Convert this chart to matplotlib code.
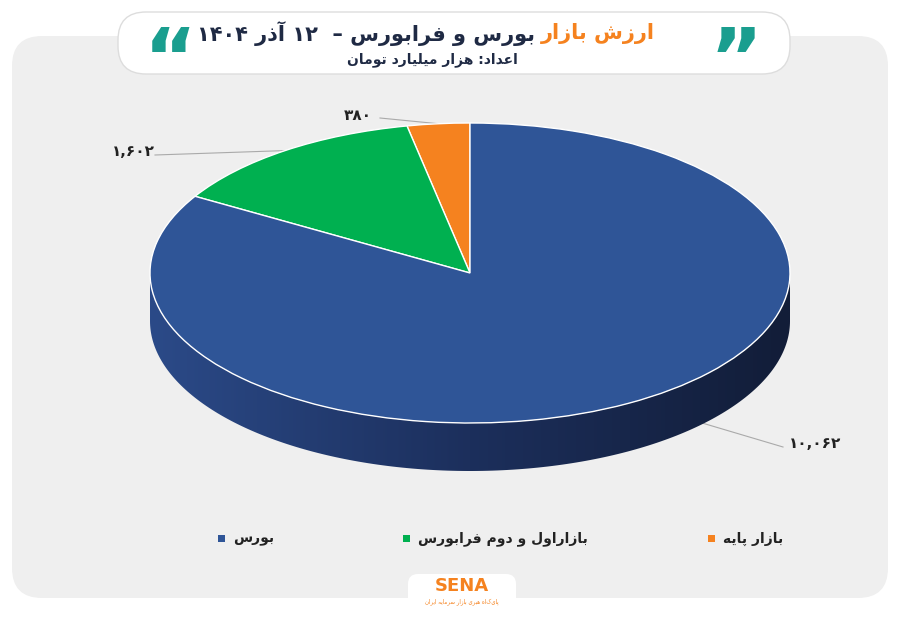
import numpy as np
import matplotlib
matplotlib.use("Agg")
import matplotlib.pyplot as plt
from matplotlib.patches import FancyBboxPatch, Rectangle, Polygon
from matplotlib.colors import LinearSegmentedColormap

labels = ["بازار پایه", "بازاراول و دوم فرابورس", "بورس"]
values = [380, 1602, 10062]
value_labels = ["۳۸۰", "۱,۶۰۲", "۱۰,۰۶۲"]
colors = ["#f5821f", "#00b050", "#2f5597"]
title_orange = "ارزش بازار"
title_rest = "بورس و فرابورس –  ۱۲ آذر ۱۴۰۴"
subtitle = "اعداد: هزار میلیارد تومان"

# --- minimal Persian shaper ---
FORMS = {
 'ا': (0xFE8D, 0xFE8E, None, None), 'آ': (0xFE81, 0xFE82, None, None),
 'ب': (0xFE8F, 0xFE90, 0xFE91, 0xFE92), 'پ': (0xFB56, 0xFB57, 0xFB58, 0xFB59),
 'ت': (0xFE95, 0xFE96, 0xFE97, 0xFE98), 'د': (0xFEA9, 0xFEAA, None, None),
 'ر': (0xFEAD, 0xFEAE, None, None), 'ز': (0xFEAF, 0xFEB0, None, None),
 'س': (0xFEB1, 0xFEB2, 0xFEB3, 0xFEB4), 'ش': (0xFEB5, 0xFEB6, 0xFEB7, 0xFEB8),
 'ع': (0xFEC9, 0xFECA, 0xFECB, 0xFECC), 'ف': (0xFED1, 0xFED2, 0xFED3, 0xFED4),
 'ل': (0xFEDD, 0xFEDE, 0xFEDF, 0xFEE0), 'م': (0xFEE1, 0xFEE2, 0xFEE3, 0xFEE4),
 'ن': (0xFEE5, 0xFEE6, 0xFEE7, 0xFEE8), 'ه': (0xFEE9, 0xFEEA, 0xFEEB, 0xFEEC),
 'و': (0xFEED, 0xFEEE, None, None), 'ی': (0xFBFC, 0xFBFD, 0xFBFE, 0xFBFF),
}
def dual(c):
    return c in FORMS and FORMS[c][2] is not None
def fa(s):
    out = []
    n = len(s)
    for i, c in enumerate(s):
        if c not in FORMS:
            out.append(c); continue
        p = s[i-1] if i > 0 else ''
        nx = s[i+1] if i < n-1 else ''
        jp = dual(p)
        jn = dual(c) and nx in FORMS
        f = FORMS[c]
        if jp and jn: g = f[3]
        elif jp: g = f[1]
        elif jn: g = f[2]
        else: g = f[0]
        out.append(chr(g))
    r = out[::-1]
    res, run = [], []
    def isd(ch): return ('\u06f0' <= ch <= '\u06f9') or ch == ','
    for ch in r:
        if isd(ch): run.append(ch)
        else:
            res.extend(run[::-1]); run = []; res.append(ch)
    res.extend(run[::-1])
    return ''.join(res)

FONT = ['DejaVu Sans']
fig = plt.figure(figsize=(9, 6.23), dpi=100)
bg = fig.add_axes([0, 0, 1, 1])
bg.set_xlim(0, 900); bg.set_ylim(623, 0); bg.axis('off')
W, H = 900, 623

bg.add_patch(FancyBboxPatch((12, 36), 876, 562, boxstyle="round,pad=0,rounding_size=30",
                            fc="#efefef", ec="none", zorder=0))
bg.add_patch(FancyBboxPatch((118, 12), 672, 62, boxstyle="round,pad=0,rounding_size=28",
                            fc="white", ec="#dddddd", lw=1, zorder=1))
t1 = bg.text(655, 34, fa(title_orange), color="#f5821f", fontsize=15, fontweight='bold',
             ha='right', va='center', family=FONT, zorder=2)
fig.canvas.draw()
bb = t1.get_window_extent()
left_px = bb.x0
bg.text(left_px - 6, 34, fa(title_rest), color="#1f2a44", fontsize=15, fontweight='bold',
        ha='right', va='center', family=FONT, zorder=2)
bg.text(432, 60, fa(subtitle), color="#1f2a44", fontsize=10, fontweight='bold',
        ha='center', va='center', family=FONT, zorder=2)
bg.text(170, 64, "\u201c", color="#1a9e8f", fontsize=58, fontweight='bold', ha='center', va='center', zorder=2)
bg.text(736, 64, "\u201d", color="#1a9e8f", fontsize=58, fontweight='bold', ha='center', va='center', zorder=2)

# pie axes: ellipse box extended downward by the depth
cx, cy, rx, ry, depth = 470, 273, 320, 150, 48
d = depth/ry
pax = fig.add_axes([(cx-rx)/W, 1-(cy+ry+depth)/H, 2*rx/W, (2*ry+depth)/H])
t = np.linspace(np.pi, 2*np.pi, 200)
xs = np.concatenate([np.cos(t), np.cos(t[::-1])])
ys = np.concatenate([np.sin(t), np.sin(t[::-1]) - d])
side = Polygon(np.column_stack([xs, ys]), closed=True, fc='none', ec='none')
pax.add_patch(side)
grad = np.linspace(0, 1, 256).reshape(1, -1)
cm = LinearSegmentedColormap.from_list("s", ["#2b4a88", "#1c2f5c", "#121d38"])
im = pax.imshow(grad, cmap=cm, extent=[-1, 1, -1-d, 0], aspect='auto', zorder=1)
im.set_clip_path(side)
wedges, _ = pax.pie(values, colors=colors, startangle=90, counterclock=True, radius=1,
                    wedgeprops=dict(edgecolor='white', linewidth=1), center=(0, 0))
for w in wedges: w.set_zorder(2)
pax.set_aspect('auto'); pax.set_xlim(-1, 1); pax.set_ylim(-1-d, 1); pax.axis('off')

# value labels with leader lines
total = sum(values)
cum = 0
lab_pos = [(358, 115), (133, 152), (815, 444)]
for i, v in enumerate(values):
    mid = np.deg2rad(90 + (cum + v/2)/total*360); cum += v
    ex, ey = cx + rx*np.cos(mid), cy - ry*np.sin(mid)
    if i == 2:
        ey = cy + ry*0.55 + depth; ex = cx + rx*0.52
    lx, ly = lab_pos[i]
    sx = lx + (22 if i != 2 else -32)
    bg.plot([sx, ex], [ly+3, ey], color="#aaaaaa", lw=0.8, zorder=3)
    bg.text(lx, ly, value_labels[i], fontsize=11, fontweight='bold', color="#222222",
            ha='center', va='center', family=FONT, zorder=4)

# legend
leg = [(218, 2), (403, 1), (708, 0)]
for x, i in leg:
    bg.add_patch(Rectangle((x, 535), 7, 7, fc=colors[i], ec='none', zorder=3))
    bg.text(x+15, 539, fa(labels[i]), fontsize=10, fontweight='bold', color="#222222",
            ha='left', va='center', family=FONT, zorder=3)

# logo
bg.add_patch(FancyBboxPatch((408, 574), 108, 38, boxstyle="round,pad=0,rounding_size=10",
                            fc="white", ec="none", zorder=2))
bg.text(462, 586, "SENA", fontsize=13, fontweight='bold', color="#f5821f", ha='center', va='center', zorder=3)
bg.text(462, 602, fa("پایکاه هبری بازار سرمایه ایران"),
        fontsize=4, color="#f5821f", ha='center', va='center', family=FONT, zorder=3)

fig.savefig("out.png", dpi=100)
